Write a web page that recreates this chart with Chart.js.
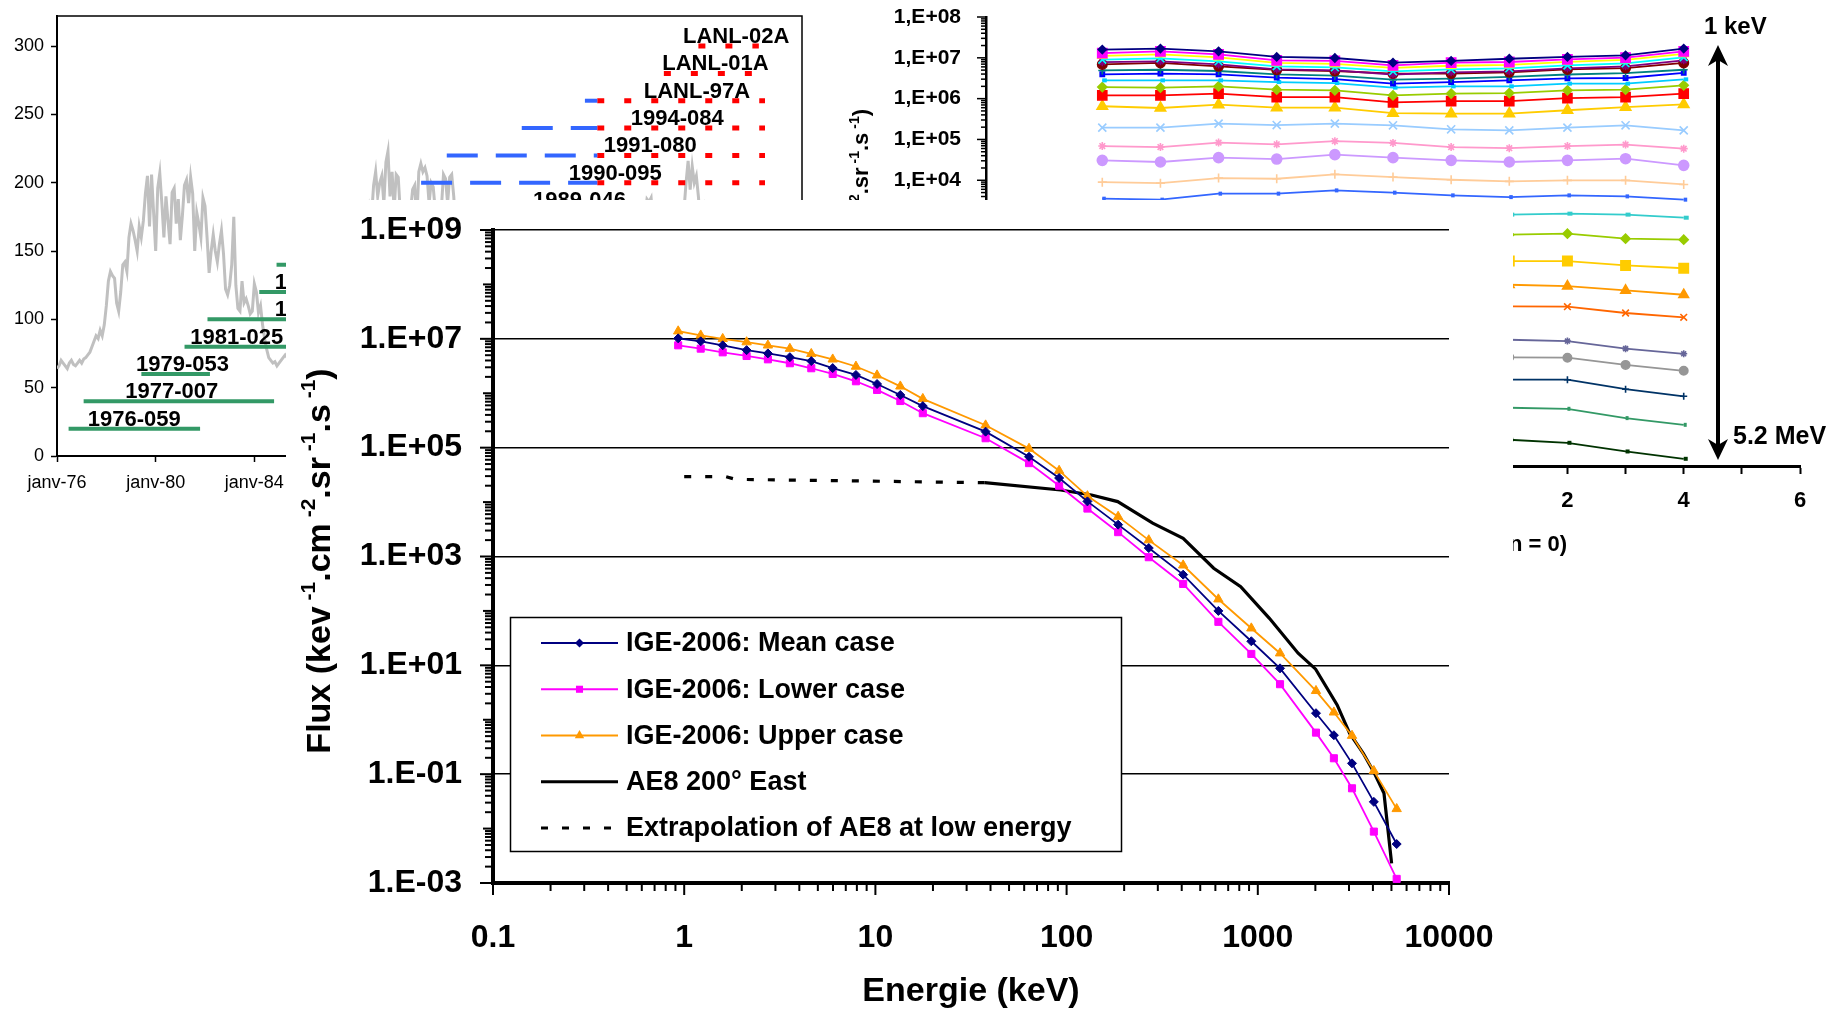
<!DOCTYPE html>
<html lang="fr">
<head>
<meta charset="utf-8">
<title>Flux électrons GEO - IGE-2006 / AE8</title>
<script src="https://cdn.jsdelivr.net/npm/chart.js@4.4.1/dist/chart.umd.min.js"></script>
<style>
  html, body { margin: 0; padding: 0; background: #fff; }
  body { position: relative; width: 1845px; height: 1011px; overflow: hidden; }
  canvas { position: absolute; }
  #timeChart { left: 0; top: 0; z-index: 1; }
  #lChart { left: 840px; top: 0; z-index: 1; }
  #fluxChart { left: 286px; top: 200px; z-index: 2; background: #fff; }
</style>
</head>
<body>
<canvas id="timeChart" width="820" height="510"></canvas>
<canvas id="lChart" width="1005" height="600"></canvas>
<canvas id="fluxChart" width="1227" height="811"></canvas>
<script>
const FONT = "'Liberation Sans', Arial, Helvetica, sans-serif";

// ---------- spectre principal (keV, flux) ----------
const energy = [0.93, 1.22, 1.59, 2.12, 2.74, 3.57, 4.62, 5.98, 7.91, 10.2, 13.5, 17.7, 37.7, 63.6, 91.4, 128.5, 186, 269, 407, 622, 925, 1307, 2015, 2500, 3110, 4045, 5325];
const meanFlux = [1.02e7, 9.0e6, 7.6e6, 6.2e6, 5.4e6, 4.6e6, 3.9e6, 2.9e6, 2.17e6, 1.48e6, 9.3e5, 5.8e5, 1.97e5, 6.8e4, 2.77e4, 1.03e4, 3.85e3, 1.43e3, 464, 100, 27.7, 8.8, 1.32, 0.52, 0.158, 0.031, 0.0052];
const lowerFlux = [7.6e6, 6.6e6, 5.65e6, 4.84e6, 4.2e6, 3.56e6, 2.88e6, 2.26e6, 1.66e6, 1.15e6, 7.2e5, 4.3e5, 1.49e5, 5.2e4, 2.0e4, 7.6e3, 2.8e3, 970, 313, 63, 16.2, 4.5, 0.58, 0.196, 0.055, 0.0088, 0.00119];
const upperFlux = [1.38e7, 1.16e7, 1.0e7, 8.7e6, 7.6e6, 6.6e6, 5.3e6, 4.2e6, 3.1e6, 2.14e6, 1.34e6, 7.9e5, 2.58e5, 9.6e4, 3.78e4, 1.29e4, 5.4e3, 2.0e3, 690, 164, 48, 16.7, 3.4, 1.37, 0.51, 0.115, 0.023];
const ae8Energy = [37.3, 93, 135, 185, 282, 407, 588, 814, 1150, 1625, 2007, 2600, 3020, 3560, 4075, 4570, 5010];
const ae8Flux = [2.27e4, 1.67e4, 1.35e4, 1.02e4, 4.1e3, 2.16e3, 608, 279, 73, 16.7, 8.5, 1.87, 0.565, 0.242, 0.104, 0.0446, 0.0023];
const extraEnergy = [1.0, 1.65, 1.85, 5, 12, 37.3];
const extraFlux = [2.93e4, 2.93e4, 2.62e4, 2.5e4, 2.4e4, 2.27e4];
const energyLabels = [0.1, 1, 10, 100, 1000, 10000];
const fluxLabels = [1e-3, 1e-1, 1e1, 1e3, 1e5, 1e7, 1e9];

// ---------- flux par canal (1 keV en haut -> 5.2 MeV en bas) ----------
const lValues = [-6, -5, -4, -3, -2, -1, 0, 1, 2, 3, 4];
const lLabels = [-8, -6, -4, -2, 0, 2, 4, 6];
const lFluxLabels = [1e-3, 1e-2, 1e-1, 1, 1e1, 1e2, 1e3, 1e4, 1e5, 1e6, 1e7, 1e8];
const ch1 = [1.59e7, 1.68e7, 1.44e7, 1.05e7, 9.9e6, 7.6e6, 8.4e6, 9.5e6, 1.05e7, 1.15e7, 1.68e7];
const ch2 = [1.31e7, 1.44e7, 1.22e7, 8.7e6, 8.4e6, 6.5e6, 7.6e6, 7.9e6, 9.2e6, 1.01e7, 1.44e7];
const ch3 = [1.12e7, 1.22e7, 1.03e7, 7.5e6, 7.1e6, 5.7e6, 6.4e6, 6.7e6, 8.0e6, 8.9e6, 1.25e7];
const ch4 = [9.0e6, 9.7e6, 8.2e6, 6.2e6, 5.85e6, 4.67e6, 5.2e6, 5.5e6, 6.5e6, 7.3e6, 1.03e7];
const ch5 = [7.8e6, 8.2e6, 6.9e6, 5.2e6, 4.9e6, 3.9e6, 4.4e6, 4.67e6, 5.5e6, 6.2e6, 8.7e6];
const ch6 = [6.9e6, 7.5e6, 6.2e6, 5.1e6, 4.75e6, 4.1e6, 4.1e6, 4.4e6, 5.2e6, 5.6e6, 7.5e6];
const ch7 = [4.9e6, 5.1e6, 4.75e6, 3.95e6, 3.66e6, 2.92e6, 3.1e6, 3.4e6, 3.9e6, 4.2e6, 5.1e6];
const ch8 = [3.95e6, 4.1e6, 3.95e6, 3.27e6, 3.0e6, 2.33e6, 2.55e6, 2.8e6, 3.15e6, 3.2e6, 4.3e6];
const ch9 = [2.8e6, 2.8e6, 2.8e6, 2.55e6, 2.41e6, 1.86e6, 2.0e6, 2.0e6, 2.33e6, 2.33e6, 2.97e6];
const ch10 = [1.92e6, 1.86e6, 2.0e6, 1.66e6, 1.6e6, 1.2e6, 1.33e6, 1.37e6, 1.6e6, 1.66e6, 2.12e6];
const ch11 = [1.2e6, 1.2e6, 1.33e6, 1.09e6, 1.09e6, 8.1e5, 8.7e5, 8.7e5, 1.03e6, 1.09e6, 1.33e6];
const ch12 = [6.5e5, 5.9e5, 7.1e5, 6.0e5, 6.0e5, 4.4e5, 4.3e5, 4.3e5, 5.2e5, 6.2e5, 7.2e5];
const ch13 = [1.95e5, 1.95e5, 2.44e5, 2.25e5, 2.44e5, 2.22e5, 1.77e5, 1.67e5, 1.95e5, 2.22e5, 1.67e5];
const ch14 = [6.9e4, 6.5e4, 8.4e4, 7.6e4, 9.1e4, 8.2e4, 6.5e4, 6.1e4, 6.9e4, 7.5e4, 5.95e4];
const ch15 = [3.08e4, 2.8e4, 3.58e4, 3.31e4, 4.24e4, 3.58e4, 3.08e4, 2.8e4, 3.08e4, 3.38e4, 2.32e4];
const ch16 = [9.0e3, 8.5e3, 1.13e4, 1.09e4, 1.4e4, 1.2e4, 1.03e4, 9.4e3, 9.95e3, 9.95e3, 7.9e3];
const ch17 = [3.54e3, 3.35e3, 4.7e3, 4.7e3, 5.65e3, 4.97e3, 4.27e3, 3.87e3, 4.27e3, 4.03e3, 3.35e3];
const ch18 = [1.5e3, 1.4e3, 1.8e3, 1.8e3, 2.1e3, 1.9e3, 1.6e3, 1.44e3, 1.52e3, 1.44e3, 1.21e3];
const ch19 = [480, 450, 560, 560, 650, 600, 500, 465, 491, 371, 350];
const ch20 = [110, 100, 125, 120, 140, 130, 110, 105, 105, 82, 70];
const ch21 = [30, 28, 34, 33, 37, 35, 29, 27.6, 25.5, 20, 15.7];
const ch22 = [8.8, 8.2, 10, 9.6, 11, 10.2, 8.4, 8.1, 8.0, 5.6, 4.4];
const ch23 = [1.4, 1.3, 1.6, 1.5, 1.7, 1.6, 1.3, 1.24, 1.15, 0.75, 0.56];
const ch24 = [0.52, 0.5, 0.6, 0.58, 0.65, 0.6, 0.48, 0.46, 0.45, 0.30, 0.215];
const ch25 = [0.15, 0.14, 0.17, 0.16, 0.18, 0.17, 0.14, 0.13, 0.13, 0.076, 0.051];
const ch26 = [0.032, 0.03, 0.036, 0.034, 0.038, 0.035, 0.029, 0.0267, 0.0252, 0.0149, 0.0102];
const ch27 = [0.0055, 0.005, 0.006, 0.0058, 0.0065, 0.006, 0.0048, 0.0044, 0.0037, 0.00227, 0.0015];
const channels = [ch1, ch2, ch3, ch4, ch5, ch6, ch7, ch8, ch9, ch10, ch11, ch12, ch13, ch14, ch15, ch16, ch17, ch18, ch19, ch20, ch21, ch22, ch23, ch24, ch25, ch26, ch27];
const channelColors = ['#000080', '#FF00FF', '#FFFF00', '#00FFFF', '#800080', '#800000', '#008080', '#0000FF', '#00CCFF', '#99CC00', '#FF0000', '#FFCC00', '#99CCFF', '#FF99CC', '#CC99FF', '#FFCC99', '#3366FF', '#33CCCC', '#99CC00', '#FFCC00', '#FF9900', '#FF6600', '#666699', '#969696', '#003366', '#339966', '#003300'];
const channelMarks = ['rectRot', 'rect', 'triangle', 'crossRot', 'star', 'circle', 'cross', 'rect', 'dash', 'rectRot', 'rect', 'triangle', 'crossRot', 'star', 'circle', 'cross', 'dash', 'dash', 'rectRot', 'rect', 'triangle', 'crossRot', 'star', 'circle', 'cross', 'dash', 'dash'];
const channelSizes = [4, 6.5, 5, 5.5, 4, 4.7, 4, 3, 4.5, 4.5, 6.4, 6, 5.7, 4, 5, 4.5, 3.5, 5, 4.5, 6.6, 5.5, 4.7, 3.5, 4.2, 3.5, 3, 4];

// ---------- couverture des satellites LANL + indice solaire ----------
const satNames = ['1976-059', '1977-007', '1979-053', '1981-025', '1982-019', '1984-037', '1984-129', '1987-097', '1989-046', '1990-095', '1991-080', '1994-084', 'LANL-97A', 'LANL-01A', 'LANL-02A'];
const satRow = [20, 40, 60, 80, 100, 120, 140, 160, 180, 200, 220, 240, 260, 280, 300];
const cpaFrom = [1976.47, 1977.08, 1979.42, 1981.17, 1982.1, 1984.2, 1984.9, 1987.9, null, null, null, null, null, null, null];
const cpaTo = [1981.8, 1984.8, 1982.2, 1989.0, 1992.0, 1995.5, 1996.5, 1996.8, null, null, null, null, null, null, null];
const sopaFrom = [null, null, null, null, null, null, null, null, 1989.5, 1990.76, 1991.8, 1994.84, 1997.4, null, null];
const sopaTo = [null, null, null, null, null, null, null, null, 1997.9, 1997.9, 1997.9, 1997.9, 1997.9, null, null];
const mpaFrom = [null, null, null, null, null, null, null, null, 1997.9, 1997.9, 1997.9, 1997.9, 1997.9, 2000.6, 2002.0];
const mpaTo = [null, null, null, null, null, null, null, null, 2004.7, 2004.7, 2004.7, 2004.7, 2004.7, 2004.3, 2004.45];
const satLabelAt = [1979.13, 1980.65, 1981.09, 1983.29, 1986.71, 1986.71, 1988.8, 1992.0, 1997.18, 1998.63, 2000.05, 2001.14, 2001.94, 2002.69, 2003.53];
const yearTicks = [1976, 1980, 1984, 1988, 1992, 1996, 2000, 2004];
const countTicks = [0, 50, 100, 150, 200, 250, 300];
// moyennes mensuelles, janvier 1976 -> décembre 2005
const solarFlux = [
  64, 66, 70, 68, 66, 64, 68, 70, 67, 66, 68, 70,
  68, 71, 72, 74, 76, 80, 84, 88, 86, 92, 88, 96,
  110, 128, 135, 132, 130, 112, 106, 120, 140, 142, 135, 160,
  170, 165, 158, 150, 168, 160, 172, 192, 205, 168, 206, 178,
  150, 196, 207, 185, 160, 190, 172, 155, 193, 196, 170, 188,
  158, 176, 198, 202, 185, 204, 192, 150, 178, 170, 160, 189,
  183, 160, 134, 150, 162, 150, 142, 155, 165, 148, 122, 118,
  125, 140, 175, 125, 108, 106, 128, 112, 115, 110, 104, 106,
  126, 120, 105, 110, 96, 86, 78, 72, 70, 68, 69, 66,
  68, 70, 72, 74, 72, 70, 69, 71, 70, 72, 74, 73,
  72, 71, 75, 73, 70, 69, 71, 72, 70, 74, 78, 76,
  74, 76, 80, 84, 82, 88, 92, 90, 96, 102, 110, 106,
  118, 124, 132, 140, 138, 150, 160, 170, 182, 175, 198, 208,
  190, 200, 205, 185, 215, 223, 190, 208, 180, 206, 204, 178,
  182, 170, 176, 165, 180, 195, 198, 172, 208, 214, 208, 211,
  205, 185, 200, 197, 180, 170, 175, 182, 206, 203, 185, 204,
  206, 190, 165, 150, 145, 130, 140, 120, 125, 130, 118, 110,
  112, 120, 108, 100, 98, 104, 95, 90, 92, 88, 96, 90,
  85, 82, 80, 78, 84, 76, 74, 80, 78, 75, 72, 76,
  80, 74, 76, 72, 74, 72, 70, 72, 70, 71, 69, 70,
  70, 69, 70, 68, 69, 70, 71, 69, 70, 68, 72, 74,
  72, 74, 72, 76, 73, 74, 75, 80, 86, 90, 96, 94,
  92, 98, 106, 100, 108, 112, 118, 125, 132, 128, 135, 148,
  140, 135, 126, 130, 142, 150, 160, 158, 162, 168, 175, 188,
  186, 189, 170, 182, 178, 172, 180, 176, 168, 174, 160, 172,
  166, 145, 165, 170, 176, 180, 200, 216, 195, 212, 200, 205,
  190, 170, 175, 182, 172, 168, 165, 180, 176, 165, 150, 158,
  144, 138, 132, 130, 126, 128, 120, 118, 110, 140, 142, 128,
  120, 112, 110, 102, 104, 100, 108, 110, 104, 100, 108, 96,
  100, 92, 90, 86, 92, 94, 96, 90, 86, 80, 82, 84
];

// ---------- helpers ----------
const pts = (xs, ys) => xs.map((x, i) => ({ x: x, y: ys[i] }));
const near = (v, list) => list.some(l => Math.abs(v / l - 1) < 1e-6);
const isDecade = v => { const e = Math.round(Math.log10(v)); return Math.abs(v / Math.pow(10, e) - 1) < 1e-6; };
const expLabel = (v, sep) => {
  const e = Math.round(Math.log10(v));
  return '1' + sep + 'E' + (e < 0 ? '-' : '+') + String(Math.abs(e)).padStart(2, '0');
};
// taille d'axe fixe, sans la marge que Chart.js réserve pour les libellés
const fixSize = (w, h) => s => {
  if (w) s.width = w;
  if (h) s.height = h;
  s.paddingTop = s.paddingBottom = s.paddingLeft = s.paddingRight = 0;
};
function fullLogTicks(scale) {
  const out = [];
  const e0 = Math.floor(Math.log10(scale.min) + 1e-9), e1 = Math.ceil(Math.log10(scale.max) - 1e-9);
  for (let e = e0; e <= e1; e++) {
    for (let m = 1; m < 10; m++) {
      const v = m * Math.pow(10, e);
      if (v >= scale.min * 0.999 && v <= scale.max * 1.001) out.push({ value: v });
    }
  }
  scale.ticks = out;
}
// petits traits de graduation (majeurs longs, mineurs courts)
function drawLogTicks(ctx, scale, horizontal, base, lens, labelled) {
  scale.ticks.forEach(t => {
    const p = scale.getPixelForValue(t.value);
    const len = isDecade(t.value) ? (near(t.value, labelled) ? lens[0] : lens[1]) : lens[2];
    ctx.beginPath();
    if (horizontal) { ctx.moveTo(p, base); ctx.lineTo(p, base + len); }
    else { ctx.moveTo(base, p); ctx.lineTo(base - len, p); }
    ctx.stroke();
  });
}
// texte avec exposants, éventuellement tourné
function richText(ctx, parts, x, y, angle, align, size, supSize, raise) {
  ctx.save();
  ctx.translate(x, y);
  ctx.rotate(angle);
  const fonts = parts.map(p => 'bold ' + (p[1] ? supSize : size) + 'px ' + FONT);
  let total = 0;
  const widths = parts.map((p, i) => { ctx.font = fonts[i]; const w = ctx.measureText(p[0]).width; total += w; return w; });
  let cx = align === 'center' ? -total / 2 : (align === 'right' ? -total : 0);
  ctx.fillStyle = '#000';
  ctx.textAlign = 'left';
  ctx.textBaseline = 'alphabetic';
  parts.forEach((p, i) => { ctx.font = fonts[i]; ctx.fillText(p[0], cx, p[1] ? -raise : 0); cx += widths[i]; });
  ctx.restore();
}
function drawMark(ctx, style, x, y, r, color) {
  ctx.fillStyle = color;
  ctx.beginPath();
  if (style === 'rectRot') { ctx.moveTo(x, y - r); ctx.lineTo(x + r, y); ctx.lineTo(x, y + r); ctx.lineTo(x - r, y); }
  else if (style === 'rect') { const s = r * Math.SQRT1_2; ctx.rect(x - s, y - s, 2 * s, 2 * s); }
  else if (style === 'triangle') { ctx.moveTo(x, y - r); ctx.lineTo(x + r * 0.866, y + r / 2); ctx.lineTo(x - r * 0.866, y + r / 2); }
  ctx.closePath();
  ctx.fill();
}
const fluxTitle = [['Flux (kev', 0], [' -1', 1], ['.cm', 0], [' -2', 1], ['.sr', 0], [' -1', 1], ['.s', 0], [' -1', 1], [')', 0]];

// ================= graphique de couverture (arrière-plan gauche) =================
const timeSets = [];
const seg = (a, b, row, color, width, dash) => ({
  data: [{ x: a, y: row }, { x: b, y: row }], borderColor: color, borderWidth: width,
  borderDash: dash, borderCapStyle: 'butt', pointRadius: 0, order: 0
});
satNames.forEach((n, i) => {
  if (cpaFrom[i] !== null) timeSets.push(seg(cpaFrom[i], cpaTo[i], satRow[i], '#339966', 4, []));
  if (sopaFrom[i] !== null) timeSets.push(seg(sopaFrom[i], sopaTo[i], satRow[i], '#3366FF', 4, [31, 18]));
  if (mpaFrom[i] !== null) timeSets.push(seg(mpaFrom[i], mpaTo[i], satRow[i], '#FF0000', 5, [7, 20]));
});
timeSets.push({
  data: solarFlux.map((v, i) => ({ x: 1976 + i / 12, y: v })),
  borderColor: '#C0C0C0', borderWidth: 3, pointRadius: 0, order: 1
});

const timeDecor = {
  id: 'timeDecor',
  beforeDatasetsDraw(chart) {
    const { ctx, chartArea: a } = chart;
    ctx.save();
    ctx.strokeStyle = '#000';
    ctx.lineWidth = 1.5;
    ctx.strokeRect(a.left, a.top, a.right - a.left, a.bottom - a.top);
    ctx.restore();
  },
  afterDatasetsDraw(chart) {
    const { ctx, scales: { x, y } } = chart;
    ctx.save();
    ctx.fillStyle = '#000';
    ctx.font = 'bold 22px ' + FONT;
    ctx.textAlign = 'center';
    ctx.textBaseline = 'alphabetic';
    satNames.forEach((n, i) => {
      ctx.fillText(n, x.getPixelForValue(satLabelAt[i]), y.getPixelForValue(satRow[i]) - 3);
    });
    ctx.restore();
  }
};

new Chart(document.getElementById('timeChart'), {
  type: 'line',
  data: { datasets: timeSets },
  options: {
    responsive: false, animation: false, devicePixelRatio: 1,
    layout: { padding: { top: 16, right: 18, left: 0, bottom: 0 } },
    plugins: { legend: { display: false }, tooltip: { enabled: false } },
    scales: {
      x: {
        type: 'linear', min: 1976, max: 2006.2,
        afterBuildTicks: s => { s.ticks = yearTicks.map(v => ({ value: v })); },
        afterFit: fixSize(0, 54),
        grid: { drawOnChartArea: false, drawTicks: true, tickLength: 6, tickColor: '#000', tickWidth: 1.5 },
        border: { color: '#000', width: 2 },
        ticks: { autoSkip: false, maxRotation: 0, padding: 10, color: '#000', font: { family: FONT, size: 18 },
                 callback: v => 'janv-' + String(v).slice(2) }
      },
      y: {
        type: 'linear', min: 0, max: 322,
        afterBuildTicks: s => { s.ticks = countTicks.map(v => ({ value: v })); },
        afterFit: fixSize(57, 0),
        grid: { drawOnChartArea: false, drawTicks: true, tickLength: 6, tickColor: '#000', tickWidth: 1.5 },
        border: { color: '#000', width: 2 },
        ticks: { autoSkip: false, padding: 7, color: '#000', font: { family: FONT, size: 18 } }
      }
    }
  },
  plugins: [timeDecor]
});

// ================= flux par canal (arrière-plan droit) =================
const lDecor = {
  id: 'lDecor',
  afterDraw(chart) {
    const { ctx, chartArea: a, scales: { y } } = chart;
    ctx.save();
    ctx.strokeStyle = '#000';
    ctx.lineWidth = 1.5;
    drawLogTicks(ctx, y, false, a.left - 1, [8, 8, 4], lFluxLabels);
    richText(ctx, [['Flux (keV', 0], [' -1', 1], ['.cm', 0], [' -2', 1], ['.sr', 0], [' -1', 1], ['.s', 0], [' -1', 1], [')', 0]],
             28, 109, -Math.PI / 2, 'right', 22, 14, 9);
    ctx.fillStyle = '#000';
    ctx.textBaseline = 'middle';
    ctx.textAlign = 'right';
    ctx.font = 'bold 22px ' + FONT;
    ctx.fillText('Position (cas n = 0)', 727, 545);
    ctx.textAlign = 'left';
    ctx.font = 'bold 24px ' + FONT;
    ctx.fillText('1 keV', 864, 27);
    ctx.font = 'bold 25px ' + FONT;
    ctx.fillText('5.2 MeV', 893, 437);
    // flèche double 1 keV <-> 5.2 MeV
    const ax = 878, top = 45, bot = 460;
    ctx.lineWidth = 4;
    ctx.beginPath(); ctx.moveTo(ax, top + 12); ctx.lineTo(ax, bot - 12); ctx.stroke();
    [[top, 1], [bot, -1]].forEach(([tip, d]) => {
      ctx.beginPath();
      ctx.moveTo(ax, tip);
      ctx.lineTo(ax + 10, tip + d * 21);
      ctx.lineTo(ax, tip + d * 15);
      ctx.lineTo(ax - 10, tip + d * 21);
      ctx.closePath();
      ctx.fill();
    });
    ctx.restore();
  }
};

new Chart(document.getElementById('lChart'), {
  type: 'line',
  data: {
    datasets: channels.map((c, i) => ({
      data: pts(lValues, c),
      borderColor: channelColors[i], backgroundColor: channelColors[i],
      pointBackgroundColor: channelColors[i], pointBorderColor: channelColors[i],
      borderWidth: 1.8, pointStyle: channelMarks[i], pointRadius: channelSizes[i],
      pointBorderWidth: channelMarks[i] === 'dash' ? 4 : 1.6
    }))
  },
  options: {
    responsive: false, animation: false, devicePixelRatio: 1,
    layout: { padding: { top: 17, right: 45, left: 0, bottom: 0 } },
    plugins: { legend: { display: false }, tooltip: { enabled: false } },
    scales: {
      x: {
        type: 'linear', min: -8, max: 6,
        afterBuildTicks: s => { const t = []; for (let v = -8; v <= 6; v++) t.push({ value: v }); s.ticks = t; },
        afterFit: fixSize(0, 134),
        grid: { drawOnChartArea: false, drawTicks: true, tickLength: 8, tickColor: '#000', tickWidth: 2 },
        border: { color: '#000', width: 3 },
        ticks: { autoSkip: false, maxRotation: 0, padding: 14, color: '#000', font: { family: FONT, size: 22, weight: 'bold' },
                 callback: v => (lLabels.includes(v) ? String(v) : '') }
      },
      y: {
        type: 'logarithmic', min: 1e-3, max: 1e8,
        afterBuildTicks: fullLogTicks,
        afterFit: fixSize(146, 0),
        grid: { drawOnChartArea: false, drawTicks: false },
        border: { color: '#000', width: 2.5 },
        ticks: { autoSkip: false, padding: 25, color: '#000', font: { family: FONT, size: 21, weight: 'bold' },
                 callback: v => (near(v, lFluxLabels) ? expLabel(v, ',') : '') }
      }
    }
  },
  plugins: [lDecor]
});

// ================= spectre IGE-2006 / AE8 (premier plan) =================
const fluxDecor = {
  id: 'fluxDecor',
  afterDraw(chart) {
    const { ctx, chartArea: a, scales: { x, y } } = chart;
    ctx.save();
    ctx.strokeStyle = '#000';
    ctx.lineWidth = 2;
    drawLogTicks(ctx, y, false, a.left - 2, [11, 8, 6], fluxLabels);
    drawLogTicks(ctx, x, true, a.bottom + 2, [10, 10, 6], energyLabels);
    richText(ctx, fluxTitle, 44, 361, -Math.PI / 2, 'center', 34, 21, 15);
    ctx.fillStyle = '#000';
    ctx.font = 'bold 34px ' + FONT;
    ctx.textAlign = 'center';
    ctx.textBaseline = 'middle';
    ctx.fillText('Energie (keV)', (a.left + a.right) / 2, 792);
    ctx.restore();
  },
  afterDatasetsDraw(chart) {
    const ctx = chart.ctx;
    const bx = 224, by = 417, bw = 611, bh = 234;
    ctx.save();
    ctx.fillStyle = '#fff';
    ctx.fillRect(bx, by, bw, bh);
    ctx.strokeStyle = '#000';
    ctx.lineWidth = 1.5;
    ctx.strokeRect(bx + 0.5, by + 0.5, bw, bh);
    chart.data.datasets.forEach((ds, i) => {
      const ry = 443 + i * 46.25;
      ctx.strokeStyle = ds.borderColor;
      ctx.lineWidth = ds.borderWidth;
      ctx.setLineDash(ds.borderDash || []);
      ctx.beginPath(); ctx.moveTo(255, ry); ctx.lineTo(332, ry); ctx.stroke();
      ctx.setLineDash([]);
      if (ds.pointRadius) drawMark(ctx, ds.pointStyle, 293.5, ry, ds.pointRadius, ds.borderColor);
      ctx.fillStyle = '#000';
      ctx.font = 'bold 27px ' + FONT;
      ctx.textAlign = 'left';
      ctx.textBaseline = 'middle';
      ctx.fillText(ds.label, 340, ry + 1);
    });
    ctx.restore();
  }
};

new Chart(document.getElementById('fluxChart'), {
  type: 'line',
  data: {
    datasets: [
      { label: 'IGE-2006: Mean case', data: pts(energy, meanFlux), borderColor: '#000080', backgroundColor: '#000080',
        pointBackgroundColor: '#000080', pointBorderColor: '#000080', borderWidth: 1.8, pointStyle: 'rectRot', pointRadius: 4.5, pointBorderWidth: 1 },
      { label: 'IGE-2006: Lower case', data: pts(energy, lowerFlux), borderColor: '#FF00FF', backgroundColor: '#FF00FF',
        pointBackgroundColor: '#FF00FF', pointBorderColor: '#FF00FF', borderWidth: 1.8, pointStyle: 'rect', pointRadius: 5, pointBorderWidth: 1 },
      { label: 'IGE-2006: Upper case', data: pts(energy, upperFlux), borderColor: '#FF9900', backgroundColor: '#FF9900',
        pointBackgroundColor: '#FF9900', pointBorderColor: '#FF9900', borderWidth: 1.8, pointStyle: 'triangle', pointRadius: 5.4, pointBorderWidth: 1 },
      { label: 'AE8 200° East', data: pts(ae8Energy, ae8Flux), borderColor: '#000', borderWidth: 3.2, pointRadius: 0 },
      { label: 'Extrapolation of AE8 at low energy', data: pts(extraEnergy, extraFlux), borderColor: '#000', borderWidth: 3.2,
        borderDash: [7, 14], borderCapStyle: 'butt', pointRadius: 0 }
    ]
  },
  options: {
    responsive: false, animation: false, devicePixelRatio: 1,
    layout: { padding: { top: 30, right: 64, left: 0, bottom: 0 } },
    plugins: { legend: { display: false }, tooltip: { enabled: false } },
    scales: {
      x: {
        type: 'logarithmic', min: 0.1, max: 10000,
        afterBuildTicks: fullLogTicks,
        afterFit: fixSize(0, 128),
        grid: { drawOnChartArea: false, drawTicks: false },
        border: { color: '#000', width: 4 },
        ticks: { autoSkip: false, maxRotation: 0, padding: 36, color: '#000', font: { family: FONT, size: 32, weight: 'bold' },
                 callback: v => (near(v, energyLabels) ? String(v) : '') }
      },
      y: {
        type: 'logarithmic', min: 1e-3, max: 1e9,
        afterBuildTicks: fullLogTicks,
        afterFit: fixSize(207, 0),
        grid: { drawOnChartArea: true, drawTicks: false, lineWidth: 1.6,
                color: c => (c.tick && near(c.tick.value, fluxLabels) ? '#000' : 'rgba(0,0,0,0)') },
        border: { color: '#000', width: 4 },
        ticks: { autoSkip: false, padding: 31, color: '#000', font: { family: FONT, size: 32, weight: 'bold' },
                 callback: v => (near(v, fluxLabels) ? expLabel(v, '.') : '') }
      }
    }
  },
  plugins: [fluxDecor]
});
</script>
</body>
</html>
